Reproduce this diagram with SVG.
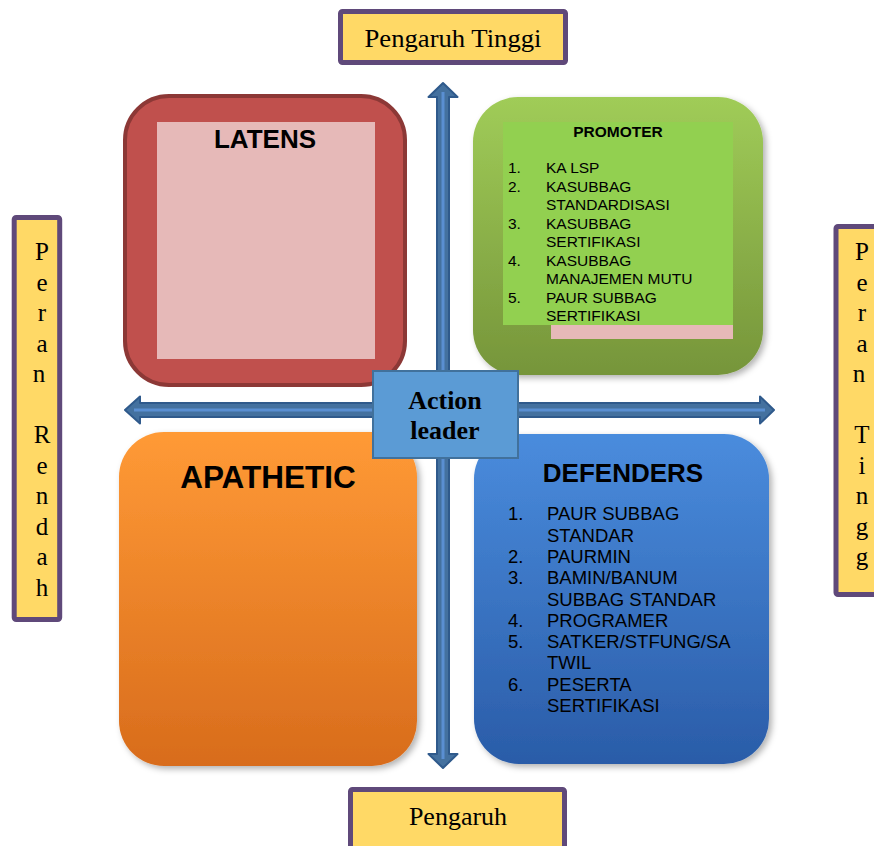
<svg xmlns="http://www.w3.org/2000/svg" width="874" height="846" viewBox="0 0 874 846">
<defs>
<style>
.lbl{fill:#FFD966;stroke:#5F497A;stroke-width:5}
.serif{font-family:"Liberation Serif","Times New Roman",serif;fill:#000}
.sans{font-family:"Liberation Sans",Arial,sans-serif;fill:#000}
.arrow{fill:#44719F;stroke:#2F5A8C;stroke-width:2;stroke-linejoin:round}
.stripe{stroke:#5A8FD2;stroke-width:3;fill:none}
</style>
<linearGradient id="gGreen" x1="0" y1="0" x2="0" y2="1">
<stop offset="0" stop-color="#A0CC58"/><stop offset="1" stop-color="#76953A"/>
</linearGradient>
<linearGradient id="gBlue" x1="0" y1="0" x2="0" y2="1">
<stop offset="0" stop-color="#4A8CDD"/><stop offset="1" stop-color="#2A5CA8"/>
</linearGradient>
<linearGradient id="gOrange" x1="0" y1="0" x2="0" y2="1">
<stop offset="0" stop-color="#FF9A36"/><stop offset="1" stop-color="#D86C1C"/>
</linearGradient>
<filter id="sh" x="-10%" y="-10%" width="125%" height="125%">
<feDropShadow dx="3" dy="3" stdDeviation="3" flood-color="#000" flood-opacity="0.3"/>
</filter>
</defs>

<g id="label-top">
<rect class="lbl" x="340.5" y="11.5" width="225" height="51" rx="2"/>
<text class="serif" x="453" y="47" font-size="25" text-anchor="middle" textLength="177" lengthAdjust="spacingAndGlyphs">Pengaruh Tinggi</text>
</g>
<g id="label-bottom">
<rect class="lbl" x="350.5" y="789.5" width="214" height="70" rx="2"/>
<text class="serif" x="458" y="825" font-size="26" text-anchor="middle">Pengaruh</text>
</g>
<g id="label-left">
<rect class="lbl" x="14.2" y="217.5" width="45.5" height="402" rx="2"/>
<text class="serif" font-size="25" text-anchor="middle">
<tspan x="42" y="260">P</tspan><tspan x="42" y="290.5">e</tspan><tspan x="42" y="321">r</tspan><tspan x="42" y="351.5">a</tspan><tspan x="42" y="382">n</tspan>
<tspan x="42" y="443">R</tspan><tspan x="42" y="473.5">e</tspan><tspan x="42" y="504">n</tspan><tspan x="42" y="534.5">d</tspan><tspan x="42" y="565">a</tspan><tspan x="42" y="595.5">h</tspan>
</text>
</g>
<g id="label-right">
<rect class="lbl" x="836" y="226.5" width="50" height="368" rx="2"/>
<text class="serif" font-size="25" text-anchor="middle">
<tspan x="862" y="260">P</tspan><tspan x="862" y="290.5">e</tspan><tspan x="862" y="321">r</tspan><tspan x="862" y="351.5">a</tspan><tspan x="862" y="382">n</tspan>
<tspan x="862" y="443">T</tspan><tspan x="862" y="473.5">i</tspan><tspan x="862" y="504">n</tspan><tspan x="862" y="534.5">g</tspan><tspan x="862" y="565">g</tspan>
</text>
</g>

<g id="latens">
<rect x="125" y="96" width="280" height="289" rx="44" fill="#C0504D" stroke="#8C3836" stroke-width="4"/>
<rect x="157" y="122" width="218" height="237" fill="#E6B9B8"/>
<text class="sans" x="265" y="148" font-size="26" font-weight="bold" text-anchor="middle">LATENS</text>
</g>

<g id="promoter">
<rect x="473" y="97" width="290" height="278" rx="45" fill="url(#gGreen)" filter="url(#sh)"/>
<rect x="503" y="122" width="230" height="203" fill="#92D050"/>
<rect x="551" y="325" width="182" height="14" fill="#E6B9B8"/>
<text class="sans" x="618" y="137" font-size="15.5" font-weight="bold" text-anchor="middle">PROMOTER</text>
<text class="sans" font-size="15.5">
<tspan x="508" y="173">1.</tspan><tspan x="546" y="173">KA LSP</tspan>
<tspan x="508" y="191.5">2.</tspan><tspan x="546" y="191.5">KASUBBAG</tspan>
<tspan x="546" y="210">STANDARDISASI</tspan>
<tspan x="508" y="228.5">3.</tspan><tspan x="546" y="228.5">KASUBBAG</tspan>
<tspan x="546" y="247">SERTIFIKASI</tspan>
<tspan x="508" y="265.5">4.</tspan><tspan x="546" y="265.5">KASUBBAG</tspan>
<tspan x="546" y="284">MANAJEMEN MUTU</tspan>
<tspan x="508" y="302.5">5.</tspan><tspan x="546" y="302.5">PAUR SUBBAG</tspan>
<tspan x="546" y="321">SERTIFIKASI</tspan>
</text>
</g>

<g id="apathetic">
<rect x="119" y="432" width="298" height="334" rx="45" fill="url(#gOrange)" filter="url(#sh)"/>
<text class="sans" x="268" y="488" font-size="31.5" font-weight="bold" text-anchor="middle">APATHETIC</text>
</g>

<g id="defenders">
<rect x="474" y="434" width="295" height="330" rx="45" fill="url(#gBlue)" filter="url(#sh)"/>
<text class="sans" x="623" y="482" font-size="26" font-weight="bold" text-anchor="middle">DEFENDERS</text>
<text class="sans" font-size="18.5">
<tspan x="508" y="520">1.</tspan><tspan x="547" y="520">PAUR SUBBAG</tspan>
<tspan x="547" y="541.5">STANDAR</tspan>
<tspan x="508" y="563">2.</tspan><tspan x="547" y="563">PAURMIN</tspan>
<tspan x="508" y="584">3.</tspan><tspan x="547" y="584">BAMIN/BANUM</tspan>
<tspan x="547" y="605.5">SUBBAG STANDAR</tspan>
<tspan x="508" y="627">4.</tspan><tspan x="547" y="627">PROGRAMER</tspan>
<tspan x="508" y="648">5.</tspan><tspan x="547" y="648">SATKER/STFUNG/SA</tspan>
<tspan x="547" y="669">TWIL</tspan>
<tspan x="508" y="690.5">6.</tspan><tspan x="547" y="690.5">PESERTA</tspan>
<tspan x="547" y="712">SERTIFIKASI</tspan>
</text>
</g>

<g id="connectors">
<polygon class="arrow" points="443,83 457.5,97 449,97 449,754 457.5,754 443,768 428.5,754 437,754 437,97 428.5,97"/>
<line class="stripe" x1="443" y1="92" x2="443" y2="759"/>
<polygon class="arrow" points="125,410 140,396.5 140,403 760,403 760,396.5 774,410 760,423.5 760,417 140,417 140,423.5"/>
<line class="stripe" x1="134" y1="410" x2="765" y2="410"/>
</g>

<g id="action-leader">
<rect x="373" y="371" width="145" height="87" fill="#5B9BD5" stroke="#41719C" stroke-width="2"/>
<text class="serif" x="445" y="409" font-size="26" font-weight="bold" text-anchor="middle">Action</text>
<text class="serif" x="445" y="439" font-size="26" font-weight="bold" text-anchor="middle">leader</text>
</g>
</svg>
